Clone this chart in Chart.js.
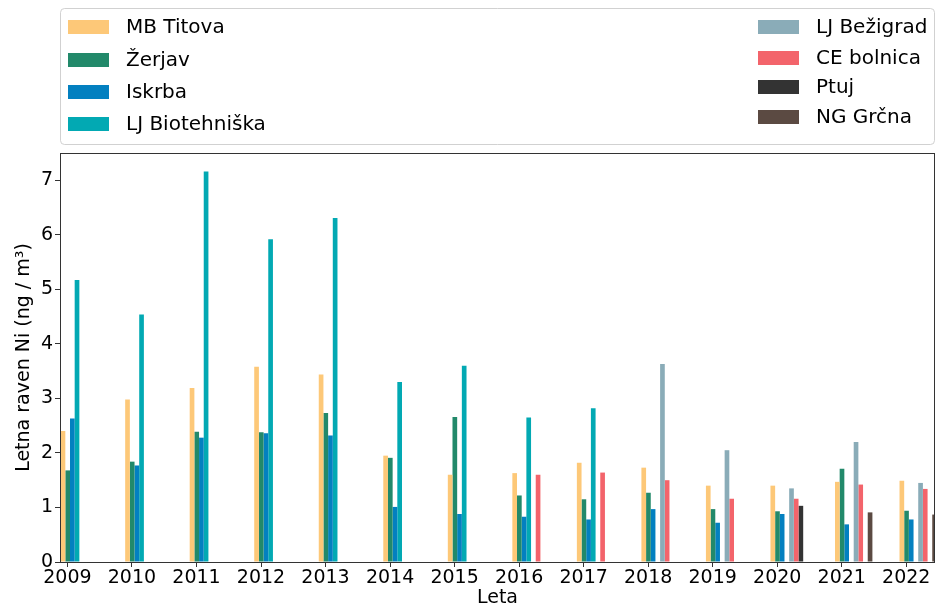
<!DOCTYPE html>
<html>
<head>
<meta charset="utf-8">
<script src="https://cdn.jsdelivr.net/npm/chart.js@4.4.0/dist/chart.umd.min.js"></script>
<style>
  html, body { margin: 0; padding: 0; background: #fff; }
  #wrap { width: 936px; height: 609px; }
</style>
</head>
<body>
<div id="wrap"><canvas id="chart" width="936" height="609"></canvas></div>
<script>
const years = [2009, 2010, 2011, 2012, 2013, 2014, 2015, 2016, 2017, 2018, 2019, 2020, 2021, 2022];

const mbTitova = [2.40, 2.98, 3.19, 3.58, 3.44, 1.95, 1.60, 1.63, 1.82, 1.73, 1.40, 1.40, 1.47, 1.49];
const zerjav = [1.68, 1.84, 2.39, 2.38, 2.73, 1.91, 2.66, 1.22, 1.15, 1.27, 0.97, 0.93, 1.71, 0.94];
const iskrba = [2.63, 1.77, 2.28, 2.36, 2.32, 1.01, 0.88, 0.83, 0.78, 0.97, 0.72, 0.88, 0.69, 0.78];
const ljBiotehniska = [5.17, 4.54, 7.16, 5.92, 6.31, 3.30, 3.60, 2.65, 2.82, null, null, null, null, null];
const ljBezigrad = [null, null, null, null, null, null, null, null, null, 3.63, 2.05, 1.35, 2.20, 1.45];
const ceBolnica = [null, null, null, null, null, null, null, 1.60, 1.64, 1.50, 1.16, 1.16, 1.42, 1.34];
const ptuj = [null, null, null, null, null, null, null, null, null, null, null, 1.03, null, null];
const ngGrcna = [null, null, null, null, null, null, null, null, null, null, null, null, 0.91, 0.87];

const yTicks = [0, 1, 2, 3, 4, 5, 6, 7];

const SERIES = [
  { label: "MB Titova", values: mbTitova, color: "#fdc878" },
  { label: "Žerjav", values: zerjav, color: "#22896a" },
  { label: "Iskrba", values: iskrba, color: "#0380c0" },
  { label: "LJ Biotehniška", values: ljBiotehniska, color: "#02a9b3" },
  { label: "LJ Bežigrad", values: ljBezigrad, color: "#8aacb8" },
  { label: "CE bolnica", values: ceBolnica, color: "#f3646b" },
  { label: "Ptuj", values: ptuj, color: "#333333" },
  { label: "NG Grčna", values: ngGrcna, color: "#5b4a42" },
];

// tick sits a bit left of the group centre in the original
const TICK_SHIFT = 0.185;
const FONT = "'DejaVu Sans', sans-serif";

const legendRows = [[27, 60, 92, 124], [27, 58, 87, 117]];

const legendBox = {
  id: "legendBox",
  afterDraw(chart) {
    const ctx = chart.ctx;
    ctx.save();
    ctx.strokeStyle = "rgba(204,204,204,0.9)";
    ctx.lineWidth = 1;
    ctx.beginPath();
    ctx.roundRect(60.5, 8.5, 874, 136, 4);
    ctx.stroke();
    ctx.font = "20px " + FONT;
    ctx.textBaseline = "middle";
    chart.data.datasets.forEach((ds, i) => {
      const col = i < 4 ? 0 : 1;
      const y = legendRows[col][i % 4];
      const px = col ? 758 : 68;
      ctx.fillStyle = ds.backgroundColor;
      ctx.fillRect(px, y - 7, 41, 14);
      ctx.fillStyle = "#000";
      ctx.fillText(ds.label, px + 58, y + 1);
    });
    ctx.restore();
  },
};

const frame = {
  id: "frame",
  afterDatasetsDraw(chart) {
    const { ctx, chartArea: a } = chart;
    ctx.save();
    ctx.strokeStyle = "#333";
    ctx.lineWidth = 1;
    ctx.strokeRect(Math.round(a.left) + 0.5, Math.round(a.top) + 0.5, Math.round(a.right - a.left) - 1, Math.round(a.bottom - a.top));
    ctx.restore();
  },
};

new Chart(document.getElementById("chart"), {
  type: "bar",
  data: {
    datasets: SERIES.map((s) => ({
      label: s.label,
      data: years.map((yr, i) => ({ x: yr, y: s.values[i] })),
      backgroundColor: s.color,
      borderWidth: 0,
      categoryPercentage: 0.58,
      barPercentage: 1.0,
    })),
  },
  options: {
    responsive: false,
    devicePixelRatio: 1,
    animation: false,
    layout: { padding: { top: 153, right: 1, left: 0, bottom: 0 } },
    plugins: {
      legend: { display: false },
      tooltip: { enabled: false },
    },
    scales: {
      x: {
        type: "linear",
        offset: false,
        min: 2008.70,
        max: 2022.26,
        afterFit: (s) => { s.height = 47; },
        afterBuildTicks: (s) => { s.ticks = years.map((yr) => ({ value: yr - TICK_SHIFT })); },
        grid: { offset: false, drawOnChartArea: false, tickLength: 5, color: "#333" },
        border: { display: false },
        ticks: {
          color: "#000",
          padding: 0,
          autoSkip: false,
          maxRotation: 0,
          font: { family: FONT, size: 19 },
          callback: (v) => String(Math.round(v + TICK_SHIFT)),
        },
        title: {
          display: true,
          text: "Leta",
          color: "#000",
          padding: { top: 0, bottom: 0 },
          font: { family: FONT, size: 19 },
        },
      },
      y: {
        min: 0,
        max: 7.5,
        afterFit: (s) => { s.width = 60; },
        afterBuildTicks: (s) => { s.ticks = yTicks.map((v) => ({ value: v })); },
        grid: { drawOnChartArea: false, tickLength: 5, color: "#333" },
        border: { display: false },
        ticks: {
          color: "#000",
          padding: 2,
          font: { family: FONT, size: 19 },
        },
        title: {
          display: true,
          text: "Letna raven Ni (ng / m³)",
          color: "#000",
          padding: { top: 13, bottom: 0 },
          font: { family: FONT, size: 19 },
        },
      },
    },
  },
  plugins: [legendBox, frame],
});
</script>
</body>
</html>
